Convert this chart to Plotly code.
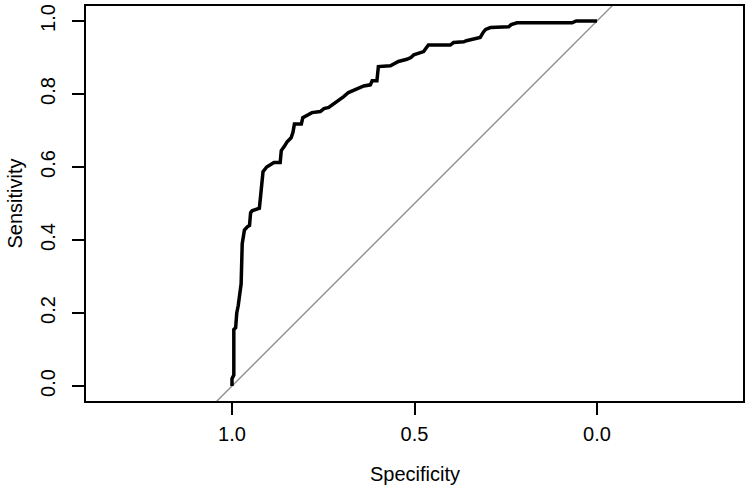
import plotly.graph_objects as go

specificity = [1.0, 1.0, 0.995, 0.995, 0.99, 0.987, 0.983, 0.98, 0.977, 0.975, 0.972, 0.968,
               0.966, 0.958, 0.952, 0.949, 0.945, 0.925, 0.92, 0.915, 0.905, 0.895, 0.885,
               0.868, 0.865, 0.857, 0.849, 0.838, 0.833, 0.829, 0.81, 0.806, 0.795, 0.781,
               0.758, 0.748, 0.735, 0.72, 0.712, 0.694, 0.681, 0.668, 0.658, 0.639, 0.621,
               0.616, 0.603, 0.599, 0.566, 0.555, 0.544, 0.521, 0.51, 0.502, 0.475, 0.462,
               0.402, 0.393, 0.365, 0.358, 0.325, 0.32, 0.311, 0.305, 0.292, 0.242, 0.235,
               0.219, 0.068, 0.057, 0.0]
sensitivity = [0.0, 0.02, 0.03, 0.155, 0.16, 0.20, 0.22, 0.245, 0.27, 0.28, 0.39, 0.41,
               0.427, 0.436, 0.44, 0.475, 0.48, 0.487, 0.53, 0.587, 0.60, 0.607, 0.612,
               0.612, 0.645, 0.656, 0.669, 0.68, 0.695, 0.718, 0.718, 0.735, 0.742, 0.749,
               0.752, 0.76, 0.763, 0.773, 0.779, 0.793, 0.804, 0.809, 0.813, 0.822, 0.825,
               0.836, 0.836, 0.875, 0.877, 0.883, 0.889, 0.895, 0.90, 0.907, 0.916, 0.934,
               0.934, 0.941, 0.943, 0.946, 0.952, 0.955, 0.970, 0.977, 0.982, 0.984, 0.99,
               0.995, 0.995, 1.0, 1.0]

diag_x = [1.5, -0.5]
diag_y = [-0.5, 1.5]

x_ticks = [1.0, 0.5, 0.0]
x_ticktext = ["1.0", "0.5", "0.0"]
y_ticks = [0.0, 0.2, 0.4, 0.6, 0.8, 1.0]
y_ticktext = ["0.0", "0.2", "0.4", "0.6", "0.8", "1.0"]

FONT = "Liberation Sans, Arial, sans-serif"
W, H = 750, 491
ML, MR, MT, MB = 86, 7, 6, 90

fig = go.Figure()
fig.add_trace(go.Scatter(x=diag_x, y=diag_y, mode="lines",
                         line=dict(color="#8f8f8f", width=1.4), hoverinfo="skip"))
fig.add_trace(go.Scatter(x=specificity, y=sensitivity, mode="lines",
                         line=dict(color="black", width=3.5)))

fig.update_layout(
    width=W, height=H,
    margin=dict(l=ML, r=MR, t=MT, b=MB, autoexpand=False),
    paper_bgcolor="white", plot_bgcolor="white",
    showlegend=False,
    font=dict(family=FONT, color="black", size=20),
    xaxis=dict(range=[1.4, -0.4], tickvals=x_ticks, ticktext=x_ticktext,
               showgrid=False, zeroline=False, showline=True, mirror=True,
               linecolor="black", linewidth=2, ticks="outside", ticklen=12,
               tickwidth=2, tickcolor="black", tickfont=dict(size=20, family=FONT),
               ticklabelstandoff=2, automargin=False),
    yaxis=dict(range=[-0.041, 1.041], tickvals=y_ticks, ticktext=y_ticktext,
               showgrid=False, zeroline=False, showline=True, mirror=True,
               linecolor="black", linewidth=2, ticks="outside", ticklen=12,
               tickwidth=2, tickcolor="black", tickangle=-90,
               tickfont=dict(size=20, family=FONT), ticklabelstandoff=9,
               automargin=False),
)

plot_h = H - MT - MB
plot_w = W - ML - MR
fig.add_annotation(text="Specificity", xref="x domain", x=0.5,
                   yref="paper", y=1 - (474 - MT) / plot_h, yanchor="middle",
                   showarrow=False, font=dict(size=20, family=FONT))
fig.add_annotation(text="Sensitivity", xref="paper", x=-(ML - 14) / plot_w,
                   xanchor="center", yref="y domain", y=0.5, showarrow=False,
                   textangle=-90, font=dict(size=20, family=FONT))

fig.write_html("out.html", config={"displayModeBar": False},
               post_script="document.body.style.margin='0';document.body.style.overflow='hidden';")
